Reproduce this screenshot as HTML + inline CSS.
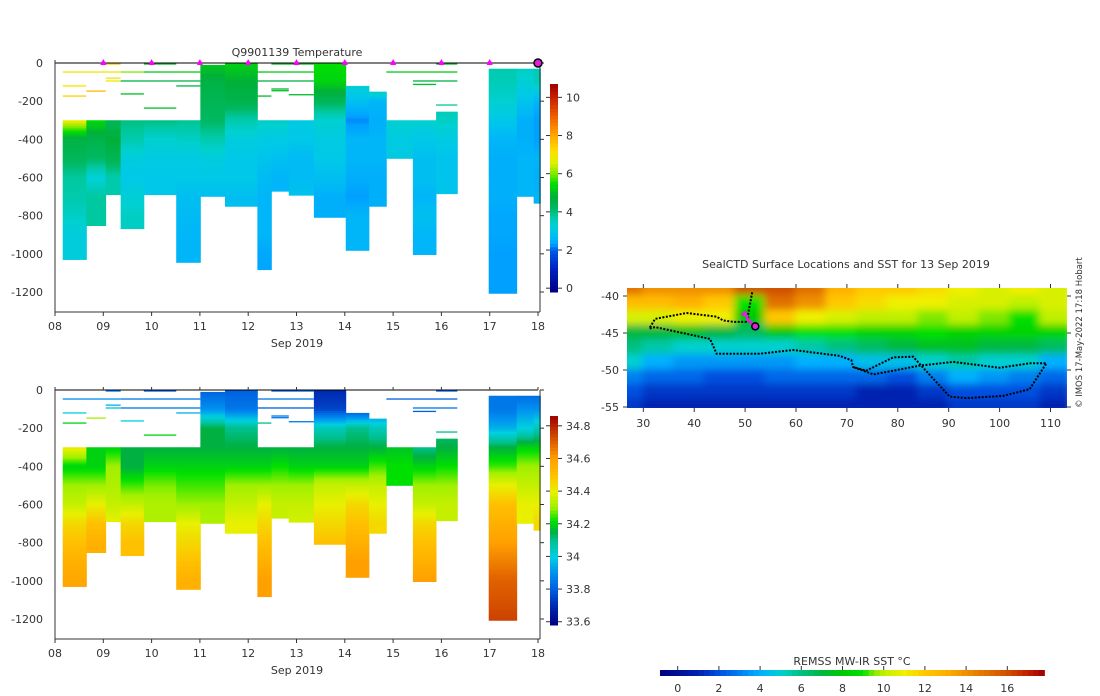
<!DOCTYPE html>
<html><head><meta charset="utf-8"><style>
body{margin:0;background:#fff;}
svg{display:block;font-family:"DejaVu Sans","Liberation Sans",sans-serif;}
text{fill:#333;font-size:11px;}
</style></head><body>
<svg id="root" width="1100" height="696" viewBox="0 0 1100 696">
<defs>
<clipPath id="mapclip"><rect x="627" y="288" width="440" height="120"/></clipPath>
<filter id="blur" x="0" y="0" width="1" height="1"><feGaussianBlur stdDeviation="4" edgeMode="duplicate"/></filter>
</defs>
<g id="top"></g>
<g id="bot"></g>
<g id="map"></g>
<text x="1082" y="408" transform="rotate(-90 1082 408)" font-size="8.5" style="font-size:8.5px">© IMOS 17-May-2022 17:18 Hobart</text>
</svg>
<script>
// ---------- profile data ----------
const days = ["08","09","10","11","12","13","14","15","16","17","18"];
const levels = [0,100,200,300,400,500,600,700,800,900,1000,1100,1200];
const profStart = [0.16,0.65,1.05,1.36,1.84,2.51,3.01,3.52,4.19,4.48,4.84,5.36,6.02,6.50,6.86,7.41,7.89,8.98,9.56,9.91];
const profEnd   = [0.65,1.05,1.36,1.84,2.51,3.01,3.52,4.19,4.48,4.84,5.36,6.02,6.50,6.86,7.41,7.89,8.33,9.56,9.91,10.05];
const profTop   = [300,300,300,300,300,300,10,0,300,300,300,0,120,150,300,300,255,30,30,30];
const profBottom= [1030,852,690,868,690,1045,699,751,1083,672,693,809,982,751,500,1004,685,1207,699,735];
const N=null;
const profTemp = [
 [N,N,N,6.8,4.6,4.3,3.8,3.7,3.5,3.2,3.2],
 [N,N,N,5.4,4.5,4.2,3.3,3.8,3.8],
 [N,N,N,4.3,4.8,4.4,3.7,3.7],
 [N,N,N,4.0,3.7,3.2,3.0,3.3,3.5],
 [N,N,N,4.0,3.4,3.1,3.0,3.0],
 [N,N,N,3.9,3.5,3.1,3.0,2.8,2.7,2.6,2.6],
 [5.2,4.6,4.4,4.2,3.7,3.2,3.0,2.8],
 [5.3,4.8,4.5,3.7,3.2,3.0,3.0,2.8],
 [N,N,N,3.5,3.1,2.9,2.7,2.6,2.6,2.6,2.4],
 [N,N,N,3.5,3.1,2.8,2.6],
 [N,N,N,3.1,3.0,2.7,2.7,2.9],
 [5.5,5.3,4.3,3.4,3.1,3.0,2.8,2.5,2.5],
 [N,3.5,2.8,2.2,2.6,2.6,2.5,2.3,2.6,2.6],
 [N,4.5,2.6,2.5,2.6,2.6,2.5,2.5],
 [N,N,N,3.4,3.1,3.1],
 [N,N,N,3.4,3.0,2.8,2.8,2.6,2.8,2.6,2.6],
 [N,N,3.7,3.5,3.1,2.9,2.9],
 [3.7,3.6,3.4,3.0,2.6,2.5,2.5,2.5,2.4,2.4,2.3,2.3,2.3],
 [3.6,3.3,2.9,2.5,2.5,2.6,2.6],
 [3.6,3.6,2.6,2.3,2.3,2.6,2.5,2.6]
];
const profSal = [
 [N,N,N,34.42,34.2,34.3,34.35,34.45,34.5,34.55,34.58],
 [N,N,N,34.2,34.2,34.3,34.4,34.5,34.55],
 [N,N,N,34.2,34.3,34.32,34.35,34.4],
 [N,N,N,34.15,34.15,34.25,34.35,34.45,34.5],
 [N,N,N,34.15,34.2,34.28,34.32],
 [N,N,N,34.15,34.2,34.25,34.3,34.4,34.45,34.5,34.55],
 [33.8,33.9,34.15,34.15,34.2,34.25,34.3,34.32],
 [33.8,33.85,34.1,34.15,34.2,34.3,34.35,34.4],
 [N,N,N,34.15,34.2,34.3,34.4,34.45,34.5,34.55,34.6],
 [N,N,N,34.15,34.22,34.3,34.35],
 [N,N,N,34.15,34.2,34.3,34.35,34.37],
 [33.7,33.75,34.05,34.15,34.2,34.35,34.4,34.45,34.5],
 [N,33.75,34.1,34.15,34.2,34.35,34.45,34.5,34.55,34.6],
 [N,33.85,34.05,34.15,34.25,34.35,34.4,34.45],
 [N,N,N,34.18,34.22,34.22],
 [N,N,N,34.1,34.2,34.3,34.35,34.45,34.5,34.55,34.6],
 [N,N,34.1,34.15,34.22,34.3,34.35],
 [33.85,33.85,33.95,34.15,34.25,34.4,34.5,34.55,34.6,34.65,34.7,34.72,34.75],
 [33.8,33.9,34.0,34.2,34.3,34.35,34.4],
 [33.8,33.9,34.05,34.2,34.3,34.35,34.4,34.45]
];
// thin near-surface samples: start day, end day, depth, temp, salinity
const lineStart = [0.16,1.36,1.84,4.19,6.86,1.05,1.84,4.48,7.89,1.05,1.05,1.36,4.19,7.41,0.16,2.51,0.65,0.16,4.19,1.36,4.84,1.84,4.48,4.48,7.41,7.89];
const lineEnd   = [1.36,1.84,3.01,5.36,8.33,1.36,2.51,5.36,8.33,1.36,1.36,3.01,5.36,8.33,0.65,3.01,1.05,0.65,4.48,1.84,5.36,2.51,4.84,4.84,7.89,8.33];
const lineDepth = [47,47,47,47,47,5,5,5,5,79,94,94,94,94,120,120,147,173,173,162,166,236,136,145,112,220];
const lineTemp  = [7.0,6.0,5.2,5.2,5.2,7.6,5.0,5.0,5.0,7.0,6.8,4.6,4.6,4.6,7.0,4.6,7.8,7.4,5.0,5.0,5.0,5.0,5.0,5.0,5.0,3.8];
const lineSal   = [33.9,33.85,33.85,33.85,33.8,33.85,33.8,33.8,33.8,33.95,33.98,33.85,33.8,33.85,34.0,33.95,34.3,34.2,34.1,34.0,33.85,34.2,33.85,33.85,33.8,34.1];
const markerDays = [1,2,3,4,5,6,7,8,9];
const currentDay = 10;
const tempTicks = [0,2,4,6,8,10];
const salTicks = [33.6,33.8,34,34.2,34.4,34.6,34.8];
const salTickLabels = ["33.6","33.8","34","34.2","34.4","34.6","34.8"];
const depthTicks = [0,-200,-400,-600,-800,-1000,-1200];
// ---------- map data ----------
const gridLon = [27,33,39,45,51,57,63,69,75,81,87,93,99,105,111];
const gridLat = [-39,-41,-43,-45,-47,-49,-51,-53,-55];
const sstGrid = [
 [15,14,14,14,16,16,15,13,12,12,11.5,11,10.5,11,10.5],
 [12.5,12.5,13,12,9,15,14,12,11.5,11,11,10.5,10.5,10,10.5],
 [10.5,10.5,11,11,8,12,11,10.5,10,10,9.5,10,9.5,9,10],
 [7,7,7.5,7,6.5,8,9,9,8.5,8.5,9,8.5,8.5,8.5,8.5],
 [6,5.5,5,5,5,5,5.5,6,6.5,7,7.5,7.5,7,7,6.5],
 [5,4,3.5,3.5,3.5,3.5,4,4,4.5,4.5,5,5.5,5,5,4],
 [3,2.5,2.5,2,2,2.5,2.5,2.5,2.5,2,3,4,3.5,3,2.5],
 [2,1.5,1.5,1.5,1.5,1.5,1.5,1.5,1,1,1.5,2,2,2,1.5],
 [1.5,1,1,1,1,1,1,1,1,1,1,1.5,1.5,1.5,1]
];
const trackLon = [51.4,50.6,50.6,47.7,45.7,44.4,38.5,32.3,31.2,32.3,43.1,44.4,52.9,59.5,68.6,70.9,71.2,73.8,79.1,83,84.6,90.2,93.5,100.7,105.9,109.2,105.9,100,90.9,84.3,79.1,75.2,71.2];
const trackLat = [-39.5,-42.4,-43.5,-43.5,-43.3,-42.8,-42.3,-43.1,-44.4,-44.2,-45.8,-47.8,-47.8,-47.3,-48.1,-48.7,-49.6,-50.1,-48.3,-48.2,-49.4,-53.6,-53.8,-53.5,-52.6,-49.1,-49.1,-49.7,-48.9,-49.4,-50.1,-50.6,-49.6];
const magLon = [49.3,50.0,50.6,52.0];
const magLat = [-42.6,-42.3,-43.3,-44.1];
const lonTicks = [30,40,50,60,70,80,90,100,110];
const latTicks = [-40,-45,-50,-55];
const sstTicks = [0,2,4,6,8,10,12,14,16];

// ---------- helpers ----------
const NS="http://www.w3.org/2000/svg";
function mk(parent,tag,attrs,txt){const e=document.createElementNS(NS,tag);for(const k in attrs)e.setAttribute(k,attrs[k]);if(txt!==undefined)e.textContent=txt;parent.appendChild(e);return e;}
function hex(c){return [parseInt(c.substr(1,2),16),parseInt(c.substr(3,2),16),parseInt(c.substr(5,2),16)];}
function cmap(stops){return function(v){if(v<=stops[0][0])return stops[0][1];for(let i=1;i<stops.length;i++){if(v<=stops[i][0]){const t=(v-stops[i-1][0])/(stops[i][0]-stops[i-1][0]);const a=hex(stops[i-1][1]),b=hex(stops[i][1]);return "rgb("+a.map((x,j)=>Math.round(x+(b[j]-x)*t)).join(",")+")";}}return stops[stops.length-1][1];};}
const tempC = cmap([[-0.2,"#000080"],[1,"#0020c0"],[2,"#0058e8"],[2.3,"#00a0ff"],[2.6,"#00b6f8"],[3,"#00c8e8"],[3.4,"#00d0d0"],[3.8,"#00c8a0"],[4.2,"#00b860"],[4.8,"#00b038"],[5.5,"#00e000"],[6,"#80e800"],[6.6,"#e0f000"],[7.2,"#ffe000"],[8,"#ffa800"],[9,"#f06000"],[10,"#c82000"],[10.7,"#a00000"]]);
const salC = cmap([[33.58,"#000080"],[33.7,"#0028b0"],[33.8,"#0060e0"],[33.9,"#0090f0"],[34.0,"#00d0e0"],[34.1,"#00c090"],[34.15,"#00b040"],[34.22,"#00e000"],[34.3,"#a0f000"],[34.4,"#e8f000"],[34.5,"#ffc000"],[34.6,"#ffa000"],[34.7,"#e06000"],[34.86,"#a00000"]]);
const sstC = cmap([[-0.9,"#000080"],[1,"#0020b0"],[2,"#0050e0"],[4,"#00b0ff"],[5,"#00d0d0"],[6,"#00c080"],[7,"#00b840"],[8,"#00c800"],[9,"#00e000"],[9.5,"#80e800"],[10,"#c0f000"],[11,"#f0f000"],[12,"#ffc800"],[13,"#ffb000"],[14,"#f09000"],[15,"#e07000"],[16,"#d05000"],[17,"#c02000"],[17.8,"#a00000"]]);

function panel(g,y0,vals,lineVals,cfun,title,cbTop,cbBot,cbMin,cbMax,ticks,tickLabels){
  const xL=55,xR=538,yBot=y0+249;
  const X=d=>xL+d*(xR-xL)/10;
  const Y=dep=>y0+dep*229/1200;
  for(let p=0;p<profStart.length;p++){
    const v=vals[p];const idx=[];
    v.forEach((x,i)=>{if(x!==null)idx.push(i);});
    const step=10;
    for(let d=profTop[p];d<profBottom[p];d+=step){
      const dd=Math.min(d+step,profBottom[p]);
      const mid=(d+dd)/2;
      let val;
      const a=idx.filter(i=>levels[i]<=mid).pop(), b=idx.find(i=>levels[i]>mid);
      if(a===undefined)val=v[b];else if(b===undefined)val=v[a];
      else val=v[a]+(v[b]-v[a])*(mid-levels[a])/(levels[b]-levels[a]);
      const r=mk(g,"rect",{x:X(profStart[p]).toFixed(2),y:Y(d).toFixed(2),width:(X(profEnd[p])-X(profStart[p])+0.4).toFixed(2),height:(Y(dd)-Y(d)+0.4).toFixed(2),fill:cfun(val)});
      
      
    }
  }
  for(let i=0;i<lineStart.length;i++){
    const l=mk(g,"rect",{x:X(lineStart[i]),y:Y(lineDepth[i])-0.6,width:X(lineEnd[i])-X(lineStart[i]),height:1.3,fill:cfun(lineVals[i])});
    
    
  }
  mk(g,"line",{x1:xL,y1:y0,x2:xR,y2:y0,stroke:"#000","stroke-width":1});
  mk(g,"line",{x1:xL,y1:y0,x2:xL,y2:yBot,stroke:"#333","stroke-width":1});
  mk(g,"line",{x1:xL,y1:yBot,x2:xR+2,y2:yBot,stroke:"#333","stroke-width":1});
  mk(g,"line",{x1:xR+2,y1:y0,x2:xR+2,y2:yBot,stroke:"#333","stroke-width":1});
  depthTicks.forEach(t=>{
    const y=Y(-t);
    const tl=mk(g,"text",{x:xL-12,y:y+4,"text-anchor":"end"},String(t));
    
    
    mk(g,"line",{x1:xR+2,y1:y,x2:xR+6,y2:y,stroke:"#333"});
  });
  days.forEach((d,i)=>{
    const x=X(i);
    mk(g,"line",{x1:x,y1:yBot,x2:x,y2:yBot+4,stroke:"#333"});
    mk(g,"line",{x1:x,y1:y0,x2:x,y2:y0-3,stroke:"#333"});
    const tl=mk(g,"text",{x:x,y:yBot+18,"text-anchor":"middle"},d);
    
    
  });
  const xt=mk(g,"text",{x:297,y:yBot+35,"text-anchor":"middle"},"Sep 2019");
  
  
  if(title){const tt=mk(g,"text",{x:297,y:y0-7,"text-anchor":"middle"},title);
    
    }
  if(vals===profTemp){
    markerDays.forEach(d=>{
      const m=mk(g,"path",{d:`M${X(d)-3},${y0+2} L${X(d)+3},${y0+2} L${X(d)},${y0-4} Z`,fill:"#f0f"});
      
      
      mk(g,"circle",{cx:X(d),cy:y0,r:2.2,fill:"#f0f"});
    });
    const c=mk(g,"circle",{cx:X(currentDay),cy:y0,r:4,fill:"#e020e0",stroke:"#000","stroke-width":1.5});
    
    
  }
  const cb=mk(g,"g",{});
  
  
  const CY=v=>cbBot-(v-cbMin)*(cbBot-cbTop)/(cbMax-cbMin);
  const n=60;
  for(let i=0;i<n;i++){const v=cbMin+(i+0.5)*(cbMax-cbMin)/n;
    mk(cb,"rect",{x:550,y:CY(cbMin+(i+1)*(cbMax-cbMin)/n),width:8,height:(cbBot-cbTop)/n+0.5,fill:cfun(v)});}
  ticks.forEach((t,i)=>{const y=CY(t);
    mk(cb,"line",{x1:546,y1:y,x2:550,y2:y,stroke:"#333"});
    mk(cb,"line",{x1:558,y1:y,x2:562,y2:y,stroke:"#333"});
    mk(cb,"text",{x:566,y:y+4},tickLabels[i]);});
}
panel(document.getElementById("top"),63,profTemp,lineTemp,tempC,"Q9901139  Temperature",84,292,-0.2,10.7,tempTicks,tempTicks.map(String));
panel(document.getElementById("bot"),390,profSal,lineSal,salC,null,416,625,33.58,34.86,salTicks,salTickLabels);

(function(){
  const g=document.getElementById("map");
  const L=lon=>643.3+(lon-30)*5.09;
  const A=lat=>296+(-40-lat)*7.4;
  const fg=mk(g,"g",{"clip-path":"url(#mapclip)"});
  const bg=mk(fg,"g",{filter:"url(#blur)"});
  for(let r=0;r<gridLat.length;r++)for(let c=0;c<gridLon.length;c++){
    const cell=mk(bg,"rect",{x:L(gridLon[c]-3)-1,y:A(gridLat[r]+1)-1,width:5.09*6+2,height:7.4*2+2,fill:sstC(sstGrid[r][c])});
    
    
  }
  const pts=trackLon.map((lo,i)=>L(lo).toFixed(1)+","+A(trackLat[i]).toFixed(1)).join(" ");
  const tr=mk(fg,"polyline",{points:pts,fill:"none",stroke:"#000","stroke-width":2,"stroke-dasharray":"2 1.5"});
  
  
  const mp=magLon.map((lo,i)=>L(lo).toFixed(1)+","+A(magLat[i]).toFixed(1)).join(" ");
  const mg=mk(fg,"polyline",{points:mp,fill:"none",stroke:"#e020e0","stroke-width":3});
  
  
  const cc=mk(fg,"circle",{cx:L(magLon[3]),cy:A(magLat[3]),r:3.5,fill:"#e020e0",stroke:"#000","stroke-width":1.5});
  
  
  const t=mk(g,"text",{x:846,y:268,"text-anchor":"middle"},"SealCTD Surface Locations and SST for 13 Sep 2019");
  
  
  lonTicks.forEach(lo=>{const x=L(lo);
    mk(g,"line",{x1:x,y1:408,x2:x,y2:412,stroke:"#333"});
    mk(g,"line",{x1:x,y1:288,x2:x,y2:284,stroke:"#333"});
    const tl=mk(g,"text",{x:x,y:427,"text-anchor":"middle"},String(lo));
    
    });
  latTicks.forEach(la=>{const y=A(la);
    mk(g,"line",{x1:627,y1:y,x2:623,y2:y,stroke:"#333"});
    mk(g,"line",{x1:1067,y1:y,x2:1071,y2:y,stroke:"#333"});
    const tl=mk(g,"text",{x:619,y:y+4,"text-anchor":"end"},String(la));
    
    });
  const cb=mk(g,"g",{});
  
  
  const S=v=>677.7+v*20.6;
  const n=70;const mn=-0.86,mx=17.8;
  for(let i=0;i<n;i++){const v0=mn+i*(mx-mn)/n,v1=mn+(i+1)*(mx-mn)/n;
    mk(cb,"rect",{x:S(v0),y:670,width:S(v1)-S(v0)+0.5,height:6,fill:sstC((v0+v1)/2)});}
  sstTicks.forEach(v=>{mk(cb,"line",{x1:S(v),y1:666,x2:S(v),y2:670,stroke:"#333"});
    mk(cb,"text",{x:S(v),y:692,"text-anchor":"middle"},String(v));});
  const lb=mk(g,"text",{x:852,y:665,"text-anchor":"middle"},"REMSS MW-IR SST °C");
  
  
})();
</script>
</body></html>
